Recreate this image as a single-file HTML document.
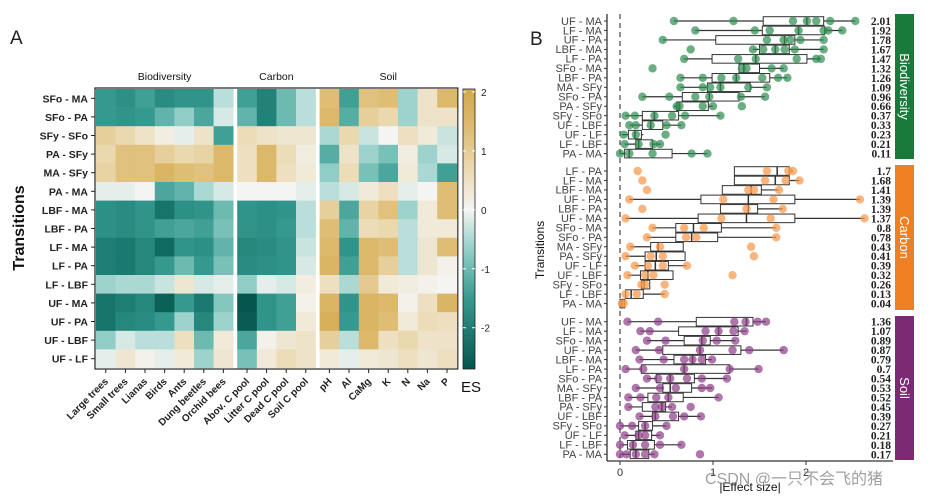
<!DOCTYPE html>
<html><head><meta charset="utf-8"><style>
body{margin:0;background:#fff;width:932px;height:496px;overflow:hidden}
svg{display:block;font-family:"Liberation Sans",Arial,sans-serif}
</style></head><body>
<svg id="fig" width="932" height="496" viewBox="0 0 932 496">
<defs>
<linearGradient id="cbg" x1="0" y1="0" x2="0" y2="1">
<stop offset="0" stop-color="#d2a94c"/><stop offset="0.12" stop-color="#dcb86a"/><stop offset="0.3" stop-color="#ecdcb8"/><stop offset="0.43" stop-color="#f4f4f2"/><stop offset="0.58" stop-color="#8fcdc6"/><stop offset="0.75" stop-color="#35998f"/><stop offset="1" stop-color="#07564e"/>
</linearGradient>
</defs>
<g id="panelA"></g>
<g id="panelB"></g>
</svg>
<script>
const rowsA=["SFo - MA","SFo - PA","SFy - SFo","PA - SFy","MA - SFy","PA - MA","LBF - MA","LBF - PA","LF - MA","LF - PA","LF - LBF","UF - MA","UF - PA","UF - LBF","UF - LF"];
const colsA=["Large trees","Small trees","Lianas","Birds","Ants","Dung beetles","Orchid bees","Abov. C pool","Litter C pool","Dead C pool","Soil C pool","pH","Al","CaMg","K","N","Na","P"];
const groupsA=["Biodiversity","Carbon","Soil"];
const groupSizes=[7,4,7];
const esValues=[
[-1.5,-1.7,-1.4,-1.8,-1.6,-1.6,-0.4,-1.4,-2.0,-1.0,-0.4,1.4,-1.4,1.3,1.4,-0.6,0.5,1.5],
[-1.5,-1.6,-1.5,-1.1,-0.7,-1.3,-0.2,-1.1,-2.0,-1.0,-0.4,1.5,-1.2,1.0,0.8,-0.6,0.5,0.5],
[1.0,0.8,0.5,0.2,-0.1,0.5,-1.4,0.7,0.5,0.4,0.4,-0.5,0.8,-0.3,0,0.6,0.3,-0.3],
[0.8,1.3,1.3,1.0,0.8,0.9,1.5,0.6,1.5,0.7,0.2,-1.2,0.5,-0.6,-0.9,0.2,-0.6,-0.2],
[0.9,1.3,1.3,1.6,1.4,1.3,1.5,0.6,1.5,0.6,0.3,-0.7,0.7,-0.9,-1.3,0.3,-0.5,-1.4],
[-0.1,-0.1,0,-1.3,-1.1,-0.5,-0.2,0,0,0,-0.1,-0.4,-0.2,0.3,0.6,-0.1,0,1.4],
[-1.7,-1.8,-1.6,-2.3,-1.7,-1.6,-1.0,-1.6,-1.7,-1.6,-0.4,1.0,-1.3,0.9,1.3,-0.6,0.3,1.4],
[-1.7,-1.8,-1.6,-1.4,-1.3,-1.4,-0.9,-1.6,-1.7,-1.5,-0.4,1.4,-1.1,0.7,0.8,-0.4,0.3,0.3],
[-2.1,-2.2,-1.9,-2.5,-1.6,-1.7,-1.1,-1.9,-1.8,-1.6,-0.3,1.5,-1.6,1.5,1.4,-0.4,0.4,1.4],
[-2.1,-2.2,-1.9,-1.5,-1.0,-1.5,-0.9,-1.8,-1.7,-1.6,-0.2,1.6,-1.4,1.5,1.0,-0.4,0.4,0.1],
[-0.6,-0.5,-0.5,-0.3,0.4,-0.2,-0.1,-0.7,-0.1,-0.2,0.2,0.6,-0.5,1.1,0.3,0.2,0.1,0],
[-2.3,-2.1,-1.9,-2.7,-1.5,-2.2,-0.8,-2.9,-1.6,-1.4,0.1,1.6,-1.6,1.6,1.5,0.1,0.6,1.6],
[-2.3,-1.9,-1.8,-1.5,-0.6,-1.9,-0.6,-2.8,-1.6,-1.4,0.3,1.8,-1.5,1.6,1.4,0.3,0.7,0.6],
[-0.7,-0.2,-0.4,-0.4,0.6,-1.0,0.3,-1.3,0.1,0.4,0.5,1.0,-0.4,1.5,0.6,0.8,0.5,0.5],
[-0.1,0.4,0.1,-0.1,0.3,-0.6,0.4,-0.9,0.3,0.7,0.5,0.3,-0.1,0.3,0.4,0.6,0.4,0.6]];
const cbTicks=[2,1,0,-1,-2];

const facets=["Biodiversity","Carbon","Soil"];
const bioRows=["UF - MA","LF - MA","UF - PA","LBF - MA","LF - PA","SFo - MA","LBF - PA","MA - SFy","SFo - PA","PA - SFy","SFy - SFo","UF - LBF","UF - LF","LF - LBF","PA - MA"];
const bioMeans=["2.01","1.92","1.78","1.67","1.47","1.32","1.26","1.09","0.96","0.66","0.37","0.33","0.23","0.21","0.11"];
const bioBox=[[0.58,1.54,2.01,2.19,2.53],[0.81,1.53,1.92,2.2,2.39],[0.46,1.03,1.77,1.88,2.19],[1.43,1.5,1.67,1.82,2.19],[0.69,0.99,1.46,2.01,2.16],[1.28,1.28,1.33,1.5,1.76],[0.65,0.99,1.25,1.61,1.8],[0.65,0.94,1.08,1.4,1.58],[0.24,0.67,0.96,1.28,1.56],[0.58,0.61,0.64,0.95,1.0],[0.06,0.24,0.37,0.63,1.08],[0.1,0.24,0.33,0.46,0.66],[0.02,0.09,0.16,0.23,0.25],[0.05,0.17,0.2,0.35,0.44],[0,0.05,0.1,0.56,0.94]];
const bioPts=[[0.58,1.22,1.86,2.01,2.11,2.26,2.53],[0.81,1.45,1.61,1.92,2.19,2.24,2.39],[0.46,1.58,1.76,1.83,1.94,2.19],[0.76,1.43,1.54,1.67,1.77,1.88,2.19],[0.69,1.27,1.46,1.9,2.11,2.16],[0.35,1.31,1.36,1.63,1.76],[0.65,0.89,1.09,1.25,1.53,1.7,1.8],[0.65,0.89,0.97,1.08,1.38,1.58],[0.24,0.53,0.81,0.96,1.3,1.56],[0.61,0.64,0.89,1.0,1.31],[0.06,0.16,0.37,0.56,0.7,1.08],[0.1,0.17,0.33,0.5,0.66],[0.04,0.17,0.49],[0.05,0.2,0.36,0.43],[0,0.1,0.35,0.77,0.94]];
const carRows=["LF - PA","LF - MA","LBF - MA","UF - PA","LBF - PA","UF - MA","SFo - MA","SFo - PA","MA - SFy","PA - SFy","UF - LF","UF - LBF","SFy - SFo","LF - LBF","PA - MA"];
const carMeans=["1.7","1.68","1.41","1.39","1.39","1.37","0.8","0.78","0.43","0.41","0.39","0.32","0.26","0.13","0.04"];
const carBox=[[1.23,1.23,1.69,1.82,1.86],[1.23,1.23,1.67,1.82,1.93],[1.1,1.1,1.41,1.52,1.71],[0.1,0.87,1.38,1.88,2.58],[1.08,1.08,1.38,1.48,1.75],[0.06,0.84,1.36,1.88,2.63],[0.35,0.6,0.79,1.09,1.68],[0.29,0.6,0.77,1.05,1.68],[0.11,0.33,0.41,0.68,0.68],[0.06,0.27,0.39,0.7,0.7],[0.16,0.27,0.38,0.52,0.72],[0.08,0.22,0.3,0.57,0.57],[0.23,0.23,0.26,0.32,0.32],[0.06,0.06,0.12,0.25,0.48],[0,0,0.02,0.05,0.05]];
const carPts=[[0.19,1.58,1.81,1.86],[0.24,1.56,1.78,1.93],[0.29,1.38,1.44,1.71],[0.1,1.11,1.65,2.58],[0.24,1.36,1.75],[0.06,1.09,1.62,2.63],[0.35,0.69,0.9,1.68],[0.29,0.71,0.82,1.68],[0.11,0.43,1.41],[0.06,0.33,0.46,1.44],[0.16,0.3,0.46,0.72],[0.08,0.27,0.36,1.21],[0.23,0.27,0.48],[0.06,0.18,0.48],[0.02,0.04]];
const soilRows=["UF - MA","LF - MA","SFo - MA","UF - PA","LBF - MA","LF - PA","SFo - PA","MA - SFy","LBF - PA","PA - SFy","UF - LBF","SFy - SFo","UF - LF","LF - LBF","PA - MA"];
const soilMeans=["1.36","1.07","0.89","0.87","0.79","0.7","0.54","0.53","0.52","0.45","0.39","0.27","0.21","0.18","0.17"];
const soilBox=[[0.08,0.82,1.36,1.43,1.57],[0.22,0.63,1.06,1.27,1.36],[0.29,0.69,0.88,0.97,1.24],[0.17,0.46,0.86,1.3,1.76],[0.21,0.58,0.78,0.92,0.99],[0.06,0.23,0.69,1.18,1.49],[0.29,0.39,0.54,0.8,1.15],[0.17,0.46,0.54,0.77,0.99],[0.09,0.3,0.52,0.68,1.06],[0.09,0.24,0.45,0.49,0.56],[0.21,0.35,0.38,0.63,0.87],[0,0.2,0.27,0.35,0.5],[0.05,0.17,0.2,0.34,0.43],[0,0.08,0.14,0.37,0.66],[0,0.11,0.17,0.31,0.37]];
const soilPts=[[0.08,0.41,1.23,1.35,1.48,1.57],[0.22,0.32,0.92,1.06,1.22,1.34],[0.29,0.49,0.89,1.04,1.24],[0.17,0.42,0.86,1.21,1.39,1.76],[0.21,0.47,0.69,0.78,0.88,0.99],[0.06,0.25,0.69,1.18,1.49],[0.29,0.41,0.54,0.72,0.88,1.15],[0.17,0.43,0.6,0.88,0.97],[0.09,0.22,0.39,0.52,1.06],[0.09,0.38,0.45,0.56,0.76],[0.21,0.38,0.57,0.69,0.87],[0,0.13,0.27,0.5],[0.05,0.2,0.27,0.43],[0,0.14,0.27,0.43,0.66],[0,0.07,0.17,0.27,0.37,0.86]];
const xTicks=[0,1,2];

const NS="http://www.w3.org/2000/svg";
function mk(parent,tag,attrs,text){const e=document.createElementNS(NS,tag);for(const k in attrs)e.setAttribute(k,attrs[k]);if(text!==undefined)e.textContent=text;parent.appendChild(e);return e;}

// ---------- Panel A ----------
const A=document.getElementById('panelA');
const t0=mk(A,'text',{x:10,y:44,'font-size':19,fill:'#222'},'A');


const hmX0=96,hmY0=89,cellW=19.6,cellH=18.6,gapW=4;
function colX(j){let g=j<7?0:(j<11?1:2);return hmX0+j*cellW+g*gapW;}
function rowY(i){return hmY0+i*cellH;}
const stops=[[-2.9,[7,86,78]],[-2.5,[15,107,98]],[-1.5,[53,153,143]],[-0.7,[143,205,198]],[0,[244,244,242]],[0.7,[236,220,184]],[1.5,[220,184,106]],[2,[210,169,76]]];
function colorOf(v){if(v<=stops[0][0])return 'rgb('+stops[0][1]+')';for(let k=1;k<stops.length;k++){if(v<=stops[k][0]){const a=stops[k-1],b=stops[k];const t=(v-a[0])/(b[0]-a[0]);return 'rgb('+a[1].map((c,i)=>Math.round(c+(b[1][i]-c)*t)).join(',')+')';}}return 'rgb('+stops[stops.length-1][1]+')';}
const frame=mk(A,'rect',{x:hmX0-1,y:hmY0-1,width:colX(17)+cellW-hmX0+2,height:15*cellH+2,fill:'#fff',stroke:'#222','stroke-width':1.2});


esValues.forEach((row,i)=>row.forEach((v,j)=>{
  const r=mk(A,'rect',{x:colX(j),y:rowY(i),width:cellW+0.3,height:cellH+0.3,fill:colorOf(v)});
  
  
}));
rowsA.forEach((n,i)=>{
  const y=rowY(i)+cellH/2;
  mk(A,'line',{x1:hmX0-5,x2:hmX0-1,y1:y,y2:y,stroke:'#222'});
  const t=mk(A,'text',{x:hmX0-8,y:y+4,'font-size':10.5,'font-weight':'bold','text-anchor':'end',fill:'#222'},n);
  
  
});
colsA.forEach((n,j)=>{
  const x=colX(j)+cellW/2,yb=rowY(15)+1;
  mk(A,'line',{x1:x,x2:x,y1:yb,y2:yb+4,stroke:'#222'});
  const t=mk(A,'text',{x:x+3,y:yb+13,'font-size':10,'font-weight':'bold','text-anchor':'end',fill:'#222',transform:`rotate(-45 ${x+3} ${yb+13})`},n);
  
  
});
let gs=0;groupsA.forEach((g,k)=>{
  const xa=colX(gs),xb=colX(gs+groupSizes[k]-1)+cellW;gs+=groupSizes[k];
  const t=mk(A,'text',{x:(xa+xb)/2,y:80,'font-size':10.5,'text-anchor':'middle',fill:'#111'},g);
  
  
});
const yt=mk(A,'text',{x:24,y:228,'font-size':16,'font-weight':'bold','text-anchor':'middle',fill:'#111',transform:'rotate(-90 24 228)'},'Transitions');


const cbTop=89,cbBot=369,cbMax=2.05,cbMin=-2.7;
function cbY(v){return cbTop+(cbMax-v)/(cbMax-cbMin)*(cbBot-cbTop);}
const cb=mk(A,'rect',{x:463,y:cbTop,width:12,height:cbBot-cbTop,fill:'url(#cbg)',stroke:'#222','stroke-width':0.8});


cbTicks.forEach(v=>{
  const y=cbY(v);
  mk(A,'line',{x1:463,x2:466,y1:y,y2:y,stroke:'#fff'});mk(A,'line',{x1:472,x2:475,y1:y,y2:y,stroke:'#fff'});
  const t=mk(A,'text',{x:481,y:y+4,'font-size':10,fill:'#222'},v);
  
  
});
const es=mk(A,'text',{x:461,y:392,'font-size':15,fill:'#111'},'ES');



// ---------- Panel B ----------
const B=document.getElementById('panelB');
const tb=mk(B,'text',{x:530,y:45,'font-size':19,fill:'#222'},'B');


const bx0=620,unit=93;
function bx(v){return bx0+v*unit;}
const facetTop=[21,171,321.7],rowStep=9.47;
const facetColors=['#1a7a3c','#f07f22','#7b2a73'];
const ptColors=['rgba(46,140,80,0.7)','rgba(247,150,70,0.7)','rgba(140,60,135,0.7)'];
const stripTop=[14,165,316],stripBot=[159,310,460];
const allRows=[bioRows,carRows,soilRows],allMeans=[bioMeans,carMeans,soilMeans],allBox=[bioBox,carBox,soilBox],allPts=[bioPts,carPts,soilPts];
const yax=mk(B,'line',{x1:607,x2:607,y1:14,y2:461,stroke:'#333','stroke-width':1.3});


const xax=mk(B,'line',{x1:607,x2:893,y1:461,y2:461,stroke:'#333','stroke-width':1.3});


const zl=mk(B,'line',{x1:bx(0),x2:bx(0),y1:14,y2:458,stroke:'#555','stroke-width':1.3,'stroke-dasharray':'5,4'});


xTicks.forEach(v=>{
  mk(B,'line',{x1:bx(v),x2:bx(v),y1:461,y2:465,stroke:'#333'});
  const t=mk(B,'text',{x:bx(v),y:476,'font-size':11,'text-anchor':'middle',fill:'#333'},v);
  
  
});
const xt=mk(B,'text',{x:750,y:491,'font-size':12,'text-anchor':'middle',fill:'#111'},'|Effect size|');


const yt2=mk(B,'text',{x:544,y:250,'font-size':12,'text-anchor':'middle',fill:'#111',transform:'rotate(-90 544 250)'},'Transitions');


facets.forEach((f,k)=>{
  const st=mk(B,'rect',{x:895,y:stripTop[k],width:19,height:stripBot[k]-stripTop[k],fill:facetColors[k]});
  
  
  const cy=(stripTop[k]+stripBot[k])/2;
  const sl=mk(B,'text',{x:904.5,y:cy,'font-size':13,fill:'#fff','text-anchor':'middle','dominant-baseline':'central',transform:`rotate(90 904.5 ${cy})`},f);
  
  
  allRows[k].forEach((name,i)=>{
    const y=facetTop[k]+i*rowStep;
    mk(B,'line',{x1:604,x2:607,y1:y,y2:y,stroke:'#333'});
    const rl=mk(B,'text',{x:602,y:y+3.8,'font-size':11,'text-anchor':'end',fill:'#444'},name);
    
    
    const b=allBox[k][i];
    const w=mk(B,'line',{x1:bx(b[0]),x2:bx(b[4]),y1:y,y2:y,stroke:'#333','stroke-width':1.2});
    
    
    const bxr=mk(B,'rect',{x:bx(b[1]),y:y-4.3,width:Math.max(bx(b[3])-bx(b[1]),0.5),height:8.6,fill:'#fff',stroke:'#333','stroke-width':1});
    
    
    const md=mk(B,'line',{x1:bx(b[2]),x2:bx(b[2]),y1:y-4.3,y2:y+4.3,stroke:'#333','stroke-width':1.5});
    
    
    allPts[k][i].forEach(p=>{
      const c=mk(B,'circle',{cx:bx(p),cy:y,r:4.2,fill:ptColors[k]});
      
      
    });
    const ml=mk(B,'text',{x:891,y:y+4,'font-size':11.5,'font-weight':'bold','text-anchor':'end',fill:'#222','font-family':'"Liberation Serif",serif'},allMeans[k][i]);
    
    
  });
});
const wm=mk(B,'text',{x:705,y:484,'font-size':16,fill:'rgba(120,120,120,0.7)','font-family':'"Liberation Sans","Noto Sans CJK SC",sans-serif'},'CSDN @一只不会飞的猪');


</script>
</body></html>
